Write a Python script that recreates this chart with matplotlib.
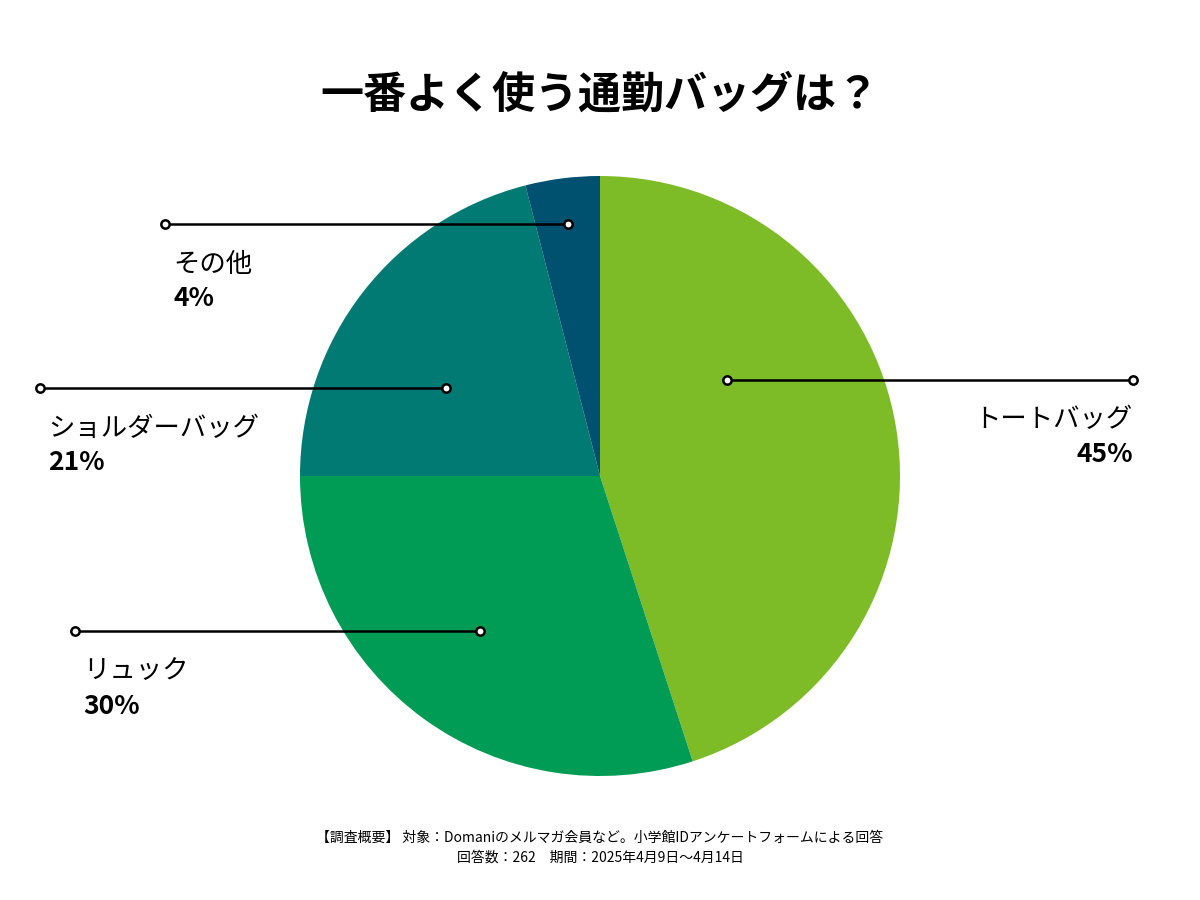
import matplotlib.pyplot as plt

plt.rcParams["font.family"] = "Noto Sans CJK JP"

categories = ["トートバッグ", "リュック", "ショルダーバッグ", "その他"]
shares = [45, 30, 21, 4]
colors = ["#7dbb27", "#009b55", "#007a73", "#005070"]

# leader lines in pixel coords (inner x, outer x, y from top), label side
leaders = [
    (727, 1133, 380, "right"),
    (480, 75, 631, "left"),
    (446, 40, 388, "left"),
    (568, 165, 224, "left"),
]

H = 900
fig = plt.figure(figsize=(12, 9), dpi=100)
ax = fig.add_axes([0, 0, 1, 1])
ax.set_xlim(0, 1200)
ax.set_ylim(0, H)
ax.set_aspect("equal")
ax.axis("off")

ax.pie(shares, colors=colors, startangle=90, counterclock=False,
       center=(600, H - 476), radius=300, frame=True,
       wedgeprops=dict(linewidth=0))
ax.set_xlim(0, 1200)
ax.set_ylim(0, H)
ax.axis("off")

for (xi, xo, y, side), name, v in zip(leaders, categories, shares):
    yy = H - y
    ax.plot([xi, xo], [yy, yy], color="black", lw=1.8, zorder=3)
    ax.plot([xi, xo], [yy, yy], "o", ms=6, mfc="white", mec="black",
            mew=1.8, zorder=4)
    tx = xo if side == "right" else xo + 8
    ax.text(tx, yy - 40, name, ha=side, va="center", fontsize=19)
    ax.text(tx, yy - 75, f"{v}%", ha=side, va="center", fontsize=19,
            fontweight="bold")

ax.text(600, H - 95, "一番よく使う通勤バッグは？", ha="center", va="center",
        fontsize=31, fontweight="bold")
ax.text(600, H - 838, "【調査概要】 対象：Domaniのメルマガ会員など。小学館IDアンケートフォームによる回答",
        ha="center", va="center", fontsize=10)
ax.text(600, H - 858, "回答数：262　期間：2025年4月9日〜4月14日",
        ha="center", va="center", fontsize=10)

fig.savefig("out.png", dpi=100)
